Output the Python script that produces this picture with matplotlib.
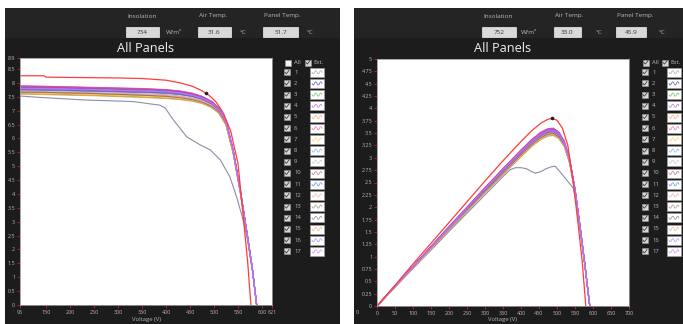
import numpy as np
import matplotlib
matplotlib.use("Agg")
import matplotlib.pyplot as plt
from matplotlib.patches import Rectangle

plt.rcParams['font.family'] = ['Open Sans', 'DejaVu Sans']

# ---------------- data ----------------
panel_ids = [str(i) for i in range(1, 18)]
panel_colors = ['#8c8cae', '#30309a', '#4caf50', '#a64df0', '#ff9a40', '#e8489e',
                '#ffc83a', '#5da8e0', '#bdbdbd', '#b44d8e', '#3f72ee', '#ff9a9a',
                '#9a7474', '#86619a', '#dba560', '#8080ff', '#c46cff']

# left chart: I-V (A) ; conditions
left_conditions = ['734', '31.6', '51.7']
right_conditions = ['752', '33.0', '45.9']

v_iv = [95, 150, 200, 250, 300, 350, 400, 430, 455, 475, 495, 510, 525, 540, 555, 570, 580, 589]
iv_2 = [7.84, 7.83, 7.81, 7.79, 7.77, 7.75, 7.72, 7.67, 7.59, 7.49, 7.31, 7.08, 6.62, 5.57, 4.12, 2.46, 1.31, 0.0]
iv_3 = [7.62, 7.60, 7.58, 7.56, 7.53, 7.50, 7.46, 7.42, 7.36, 7.28, 7.13, 6.93, 6.50, 5.48, 4.05, 2.42, 1.28, 0.0]
iv_4 = [7.88, 7.87, 7.85, 7.83, 7.81, 7.79, 7.75, 7.70, 7.62, 7.51, 7.33, 7.10, 6.64, 5.58, 4.13, 2.47, 1.32, 0.0]
iv_5 = [7.66, 7.64, 7.62, 7.60, 7.57, 7.54, 7.50, 7.45, 7.38, 7.29, 7.14, 6.93, 6.50, 5.47, 4.04, 2.41, 1.28, 0.0]
iv_6 = [7.90, 7.88, 7.86, 7.84, 7.82, 7.80, 7.76, 7.71, 7.63, 7.52, 7.34, 7.10, 6.64, 5.58, 4.12, 2.46, 1.31, 0.0]
iv_7 = [7.64, 7.62, 7.60, 7.58, 7.55, 7.52, 7.48, 7.44, 7.37, 7.28, 7.13, 6.92, 6.49, 5.46, 4.03, 2.40, 1.27, 0.0]
iv_8 = [7.74, 7.73, 7.71, 7.69, 7.67, 7.65, 7.62, 7.57, 7.50, 7.40, 7.24, 7.02, 6.58, 5.53, 4.09, 2.44, 1.30, 0.0]
iv_9 = [7.70, 7.69, 7.67, 7.65, 7.63, 7.61, 7.58, 7.53, 7.46, 7.37, 7.21, 7.00, 6.56, 5.52, 4.08, 2.44, 1.29, 0.0]
iv_10 = [7.85, 7.84, 7.82, 7.80, 7.78, 7.76, 7.73, 7.68, 7.60, 7.49, 7.31, 7.08, 6.62, 5.56, 4.11, 2.45, 1.31, 0.0]
iv_11 = [7.78, 7.77, 7.75, 7.73, 7.71, 7.69, 7.66, 7.61, 7.53, 7.43, 7.26, 7.04, 6.59, 5.54, 4.10, 2.45, 1.30, 0.0]
iv_12 = [7.68, 7.67, 7.65, 7.63, 7.61, 7.58, 7.55, 7.50, 7.43, 7.34, 7.18, 6.97, 6.54, 5.50, 4.07, 2.43, 1.29, 0.0]
iv_13 = [7.67, 7.66, 7.64, 7.62, 7.59, 7.56, 7.52, 7.47, 7.40, 7.31, 7.16, 6.95, 6.52, 5.49, 4.06, 2.42, 1.28, 0.0]
iv_14 = [7.76, 7.75, 7.73, 7.71, 7.69, 7.67, 7.64, 7.59, 7.52, 7.42, 7.25, 7.03, 6.59, 5.54, 4.10, 2.45, 1.30, 0.0]
iv_15 = [7.60, 7.58, 7.56, 7.54, 7.51, 7.48, 7.44, 7.40, 7.34, 7.26, 7.11, 6.91, 6.48, 5.46, 4.04, 2.41, 1.27, 0.0]
iv_16 = [7.82, 7.81, 7.79, 7.77, 7.75, 7.73, 7.70, 7.65, 7.57, 7.46, 7.29, 7.06, 6.61, 5.56, 4.11, 2.46, 1.31, 0.0]
iv_17 = [7.80, 7.79, 7.77, 7.75, 7.73, 7.71, 7.68, 7.63, 7.55, 7.45, 7.28, 7.05, 6.60, 5.55, 4.10, 2.45, 1.30, 0.0]

v_iv_1 = [95, 137, 227, 331, 387, 398, 415, 443, 471, 492, 513, 533, 548, 560, 570, 580, 589]
iv_1 = [7.53, 7.48, 7.39, 7.33, 7.20, 7.10, 6.67, 6.06, 5.77, 5.59, 5.23, 4.62, 3.85, 3.10, 2.35, 1.25, 0.0]

v_iv_ext = [95, 145, 150, 200, 250, 300, 350, 400, 430, 455, 475, 490, 505, 520, 535, 550, 562, 570, 577]
iv_ext = [8.26, 8.26, 8.21, 8.20, 8.19, 8.18, 8.16, 8.10, 8.00, 7.88, 7.72, 7.55, 7.30, 6.90, 6.25, 5.10, 3.00, 1.60, 0.0]
mpp_iv = (483, 7.63)

# right chart: P-V (kW)
v_pv = [0, 50, 100, 150, 200, 250, 300, 350, 400, 430, 455, 475, 490, 505, 520, 535, 550, 565, 578, 591]
pv_2 = [0, 0.40, 0.80, 1.20, 1.60, 1.99, 2.38, 2.77, 3.14, 3.35, 3.49, 3.56, 3.57, 3.50, 3.32, 2.97, 2.36, 1.56, 0.81, 0.0]
pv_3 = [0, 0.39, 0.77, 1.16, 1.54, 1.92, 2.30, 2.67, 3.03, 3.24, 3.38, 3.45, 3.46, 3.40, 3.24, 2.90, 2.31, 1.53, 0.79, 0.0]
pv_4 = [0, 0.40, 0.80, 1.20, 1.60, 2.00, 2.39, 2.78, 3.15, 3.37, 3.51, 3.58, 3.59, 3.52, 3.34, 2.98, 2.37, 1.56, 0.81, 0.0]
pv_5 = [0, 0.39, 0.78, 1.16, 1.55, 1.93, 2.31, 2.68, 3.05, 3.26, 3.39, 3.46, 3.47, 3.41, 3.25, 2.91, 2.32, 1.53, 0.79, 0.0]
pv_6 = [0, 0.40, 0.80, 1.21, 1.61, 2.00, 2.40, 2.78, 3.16, 3.37, 3.52, 3.59, 3.60, 3.52, 3.34, 2.98, 2.37, 1.56, 0.81, 0.0]
pv_7 = [0, 0.39, 0.78, 1.16, 1.55, 1.93, 2.31, 2.68, 3.04, 3.25, 3.39, 3.46, 3.47, 3.40, 3.24, 2.90, 2.31, 1.53, 0.79, 0.0]
pv_8 = [0, 0.39, 0.79, 1.18, 1.57, 1.96, 2.34, 2.72, 3.09, 3.30, 3.44, 3.51, 3.52, 3.45, 3.28, 2.93, 2.34, 1.54, 0.80, 0.0]
pv_9 = [0, 0.39, 0.78, 1.17, 1.56, 1.95, 2.33, 2.71, 3.08, 3.29, 3.43, 3.50, 3.51, 3.44, 3.27, 2.93, 2.33, 1.54, 0.80, 0.0]
pv_10 = [0, 0.40, 0.80, 1.20, 1.59, 1.99, 2.38, 2.76, 3.13, 3.34, 3.48, 3.55, 3.56, 3.49, 3.31, 2.96, 2.36, 1.55, 0.80, 0.0]
pv_11 = [0, 0.40, 0.79, 1.19, 1.58, 1.97, 2.36, 2.74, 3.11, 3.32, 3.46, 3.53, 3.54, 3.47, 3.30, 2.95, 2.35, 1.55, 0.80, 0.0]
pv_12 = [0, 0.39, 0.78, 1.17, 1.56, 1.94, 2.32, 2.70, 3.07, 3.28, 3.42, 3.49, 3.50, 3.43, 3.26, 2.92, 2.33, 1.54, 0.79, 0.0]
pv_13 = [0, 0.39, 0.78, 1.17, 1.55, 1.94, 2.32, 2.69, 3.06, 3.27, 3.41, 3.48, 3.49, 3.42, 3.26, 2.91, 2.32, 1.53, 0.79, 0.0]
pv_14 = [0, 0.39, 0.79, 1.18, 1.57, 1.96, 2.35, 2.73, 3.10, 3.31, 3.45, 3.52, 3.53, 3.46, 3.29, 2.94, 2.34, 1.55, 0.80, 0.0]
pv_15 = [0, 0.38, 0.77, 1.15, 1.54, 1.92, 2.29, 2.66, 3.02, 3.23, 3.37, 3.44, 3.45, 3.39, 3.23, 2.89, 2.31, 1.52, 0.79, 0.0]
pv_16 = [0, 0.40, 0.79, 1.19, 1.59, 1.98, 2.37, 2.76, 3.13, 3.34, 3.48, 3.55, 3.56, 3.49, 3.31, 2.96, 2.36, 1.55, 0.80, 0.0]
pv_17 = [0, 0.40, 0.79, 1.19, 1.58, 1.98, 2.37, 2.75, 3.12, 3.33, 3.47, 3.54, 3.55, 3.48, 3.30, 2.95, 2.35, 1.55, 0.80, 0.0]

v_pv_1 = [0, 50, 100, 150, 200, 250, 300, 350, 370, 385, 400, 415, 430, 440, 455, 470, 485, 495, 508, 527, 545, 555, 565, 578, 591]
pv_1 = [0, 0.38, 0.76, 1.13, 1.51, 1.88, 2.25, 2.62, 2.76, 2.80, 2.80, 2.78, 2.72, 2.69, 2.72, 2.78, 2.82, 2.83, 2.72, 2.55, 2.39, 2.08, 1.50, 0.79, 0.0]

v_pv_ext = [0, 50, 100, 150, 200, 250, 300, 350, 400, 430, 455, 475, 487, 500, 515, 530, 545, 558, 570, 580]
pv_ext = [0, 0.42, 0.85, 1.27, 1.69, 2.11, 2.53, 2.94, 3.33, 3.55, 3.70, 3.78, 3.80, 3.76, 3.60, 3.25, 2.50, 1.70, 0.90, 0.0]
mpp_pv = (487, 3.80)

left_xticks = [95, 150, 200, 250, 300, 350, 400, 450, 500, 550, 600, 621]
left_yticks = [0, 0.5, 1, 1.5, 2, 2.5, 3, 3.5, 4, 4.5, 5, 5.5, 6, 6.5, 7, 7.5, 8, 8.5, 8.9]
right_xticks = list(range(0, 701, 50))
right_yticks = [i * 0.25 for i in range(21)]

iv_series = [iv_1, iv_2, iv_3, iv_4, iv_5, iv_6, iv_7, iv_8, iv_9, iv_10, iv_11,
             iv_12, iv_13, iv_14, iv_15, iv_16, iv_17]
pv_series = [pv_1, pv_2, pv_3, pv_4, pv_5, pv_6, pv_7, pv_8, pv_9, pv_10, pv_11,
             pv_12, pv_13, pv_14, pv_15, pv_16, pv_17]

# ---------------- figure ----------------
W, H = 683, 324
fig = plt.figure(figsize=(W / 100, H / 100), dpi=100, facecolor='white')
ui = fig.add_axes([0, 0, 1, 1], zorder=0)
ui.set_xlim(0, W)
ui.set_ylim(H, 0)
ui.axis('off')

LBL = '#b8b8b8'


def fmt(v):
    s = ('%.2f' % v).rstrip('0').rstrip('.')
    return s


def checkbox(x, y, checked=True):
    ui.add_patch(Rectangle((x - 3, y - 3), 6, 6, facecolor='#d6d6d6' if checked else '#f2f2f2',
                           edgecolor='#9a9a9a', lw=0.4))
    if checked:
        ui.plot([x - 2, x - 0.6, x + 2], [y, y + 1.6, y - 1.8], color='#404040', lw=0.6)


def draw_panel(x0, x1, cond, hdr, leg, pa, all_checked):
    # dark panel
    ui.add_patch(Rectangle((x0, 8), x1 - x0, H - 8, facecolor='#1c1c1c', edgecolor='none'))
    ui.add_patch(Rectangle((x0, 8), x1 - x0, 30, facecolor='#242424', edgecolor='none'))
    # header
    labels = ['Insolation', 'Air Temp.', 'Panel Temp.']
    units = ['W/m²', '°C', '°C']
    for (bx, bw, ux), lab, val, unit in zip(hdr, labels, cond, units):
        ui.text(bx + 1, 16, lab, color=LBL, fontsize=4.6, va='center', ha='left')
        ui.add_patch(Rectangle((bx, 27), bw, 10, facecolor='#d9d9d9', edgecolor='#efefef', lw=0.5))
        ui.text(bx + bw / 2, 32, val, color='#333333', fontsize=4.6, va='center', ha='center')
        ui.text(ux, 32.5, unit, color=LBL, fontsize=4.6, va='center', ha='left')
    # title
    ui.text((pa[0] + pa[1]) / 2, 49, 'All Panels', color='#eeeeee', fontsize=9.2,
            va='center', ha='center')
    # legend
    cbx, numx, swx, extcb = leg
    checkbox(cbx + 1, 62.5, all_checked)
    ui.text(cbx + 7, 62.5, 'All', color=LBL, fontsize=4.2, va='center')
    checkbox(extcb, 62.5, True)
    ui.text(extcb + 5, 62.5, 'Ext.', color=LBL, fontsize=4.2, va='center')
    wave_t = np.linspace(0, 1, 30)
    for i, (pid, col) in enumerate(zip(panel_ids, panel_colors)):
        y = 72.2 + i * 11.2
        checkbox(cbx, y, True)
        ui.text(numx, y, pid, color=LBL, fontsize=4.2, va='center')
        ui.add_patch(Rectangle((swx, y - 4.5), 14, 9, facecolor='white', edgecolor='#a0a0a0', lw=0.5))
        ui.plot(swx + 2 + 10 * wave_t, y + 1.6 * np.sin(wave_t * 4 * np.pi), color=col, lw=0.5, alpha=0.8)
    # x label
    ui.text((pa[0] + pa[1]) / 2, 320, 'Voltage (V)', color=LBL, fontsize=4.2, va='center', ha='center')


def make_axes(px0, px1, py0, py1):
    ax = fig.add_axes([px0 / W, (H - py1) / H, (px1 - px0) / W, (py1 - py0) / H], zorder=2)
    ax.set_facecolor('white')
    for s in ax.spines.values():
        s.set_color('#9a9a9a')
        s.set_linewidth(0.6)
    ax.tick_params(axis='both', colors='#cc2020', labelcolor=LBL, labelsize=3.9,
                   length=2, width=0.6, pad=1.5)
    return ax


# left panel
left_pa = (20, 272, 58, 305)
draw_panel(5, 340, left_conditions,
           [(126, 33, 166), (198, 33, 240), (263, 35, 307)],
           (287, 294, 310, 308), left_pa, False)
# right panel
right_pa = (377, 629, 59, 306)
draw_panel(354, W, right_conditions,
           [(482, 34, 521), (554, 27, 596), (616, 30, 659)],
           (645, 652, 667, 665), right_pa, True)
ui.text(357, 312, '0', color=LBL, fontsize=3.9, va='center', ha='center')

axL = make_axes(*left_pa)
for ys, col, i in zip(iv_series, panel_colors, range(17)):
    xs = v_iv_1 if i == 0 else v_iv
    axL.plot(xs, ys, color=col, lw=0.8)
axL.plot(v_iv_ext, iv_ext, color='#ff3b3b', lw=0.9)
axL.plot([mpp_iv[0]], [mpp_iv[1]], 'o', color='#202020', ms=1.6)
axL.set_xlim(95, 621)
axL.set_ylim(0, 8.9)
axL.set_xticks(left_xticks)
axL.set_xticklabels([fmt(t) for t in left_xticks])
axL.set_yticks(left_yticks)
axL.set_yticklabels([fmt(t) for t in left_yticks])

axR = make_axes(*right_pa)
for ys, col, i in zip(pv_series, panel_colors, range(17)):
    xs = v_pv_1 if i == 0 else v_pv
    axR.plot(xs, ys, color=col, lw=0.8)
axR.plot(v_pv_ext, pv_ext, color='#ff3b3b', lw=0.9)
axR.plot([mpp_pv[0]], [mpp_pv[1]], 'o', color='#202020', ms=1.6)
axR.set_xlim(0, 700)
axR.set_ylim(0, 5)
axR.set_xticks(right_xticks)
axR.set_xticklabels([fmt(t) for t in right_xticks])
axR.set_yticks(right_yticks)
axR.set_yticklabels([fmt(t) for t in right_yticks])

fig.savefig('out.png', dpi=100, facecolor='white')
